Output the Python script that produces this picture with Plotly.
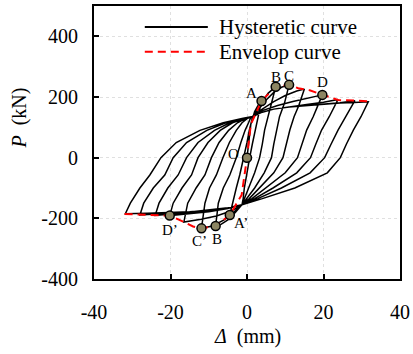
import plotly.graph_objects as go

# ---------------- data ----------------
# hysteretic loops (displacement mm, load kN), one cycle per amplitude level
loop1_d = [0, 0.5, 1.0, 2.0, 3.0, 3.8, 2.9, 2.0, 1.4, 0.7, -0.1, -0.7, -1.0, -1.3, -2.5, -3.5, -4.5,
           -3.8, -2.8, -1.9, -0.8, 0.0, 0.6, 1.0, 1.3, 1.5]
loop1_p = [0, 55, 110, 152, 175, 187, 135, 91, 45, 0, -50, -100, -135, -155, -172, -183, -189,
           -150, -100, -57, 0, 50, 90, 115, 130, 136]
loop2_d = [2.8, 4.0, 5.5, 7.5, 6.4, 5.4, 4.6, 4.0, 3.3, 2.0, 0.5, -0.6, -1.3, -3.0, -5.0, -6.8, -8.2,
           -7.5, -6.2, -4.5, -2.8, -1.6, -0.5, 0.4, 0.9, 1.5]
loop2_p = [160, 185, 212, 234, 180, 135, 91, 45, 0, -50, -100, -135, -155, -180, -205, -220, -225,
           -150, -100, -57, 0, 50, 90, 115, 130, 136]
loop3_d = [3.0, 5.0, 7.0, 9.0, 11.0, 9.8, 8.5, 7.7, 7.0, 6.4, 4.5, 2.0, 0.0, -1.3, -3.5, -6.0, -9.0, -11.9,
           -11.0, -9.8, -8.0, -6.3, -4.6, -2.8, -1.3, 0.2, 1.5]
loop3_p = [160, 190, 215, 232, 240, 180, 135, 91, 45, 0, -50, -100, -135, -155, -180, -205, -225, -233,
           -150, -100, -57, 0, 50, 90, 115, 130, 136]
loop4_d = [4.0, 7.0, 10.0, 13.0, 15.0, 13.5, 12.3, 11.2, 10.3, 9.4, 7.0, 3.3, 0.6, -1.3, -4.0, -8.0, -12.0, -16.5,
           -15.5, -13.3, -11.0, -9.3, -7.3, -4.8, -2.5, -0.3, 1.5]
loop4_p = [160, 185, 205, 220, 226, 170, 135, 91, 45, 0, -50, -100, -135, -155, -175, -192, -203, -212,
           -150, -100, -57, 0, 50, 90, 115, 130, 136]
loop5_d = [4.0, 8.0, 12.0, 16.0, 19.7, 18.3, 17.3, 15.6, 14.4, 13.2, 10.0, 5.0, 1.3, -1.3, -5.0, -10.0, -15.0, -20.2,
           -19.3, -17.0, -14.5, -12.8, -10.2, -7.0, -3.8, -0.5, 1.5]
loop5_p = [155, 172, 185, 197, 207, 165, 135, 91, 45, 0, -50, -100, -135, -155, -168, -178, -185, -191,
           -150, -100, -57, 0, 50, 90, 115, 130, 136]
loop6_d = [4.0, 7.0, 11.0, 15.6, 20.0, 23.8, 21.5, 19.5, 18.0, 16.6, 13.0, 6.8, 2.0, -1.3, -5.0, -10.0, -15.0, -20.0, -24.0,
           -23.0, -20.7, -18.0, -15.8, -12.8, -8.5, -4.5, -0.8, 1.5]
loop6_p = [150, 160, 168, 175, 183, 192, 135, 91, 45, 0, -50, -100, -135, -155, -166, -175, -181, -186, -190,
           -150, -100, -57, 0, 50, 90, 115, 130, 136]
loop7_d = [4.0, 7.0, 11.0, 15.6, 20.0, 24.3, 28.2, 25.8, 23.8, 22.0, 20.3, 16.5, 9.0, 2.8, -1.3, -5.0, -10.0, -15.0, -20.0, -24.0, -28.0,
           -27.0, -24.5, -21.5, -19.3, -15.8, -10.5, -5.5, -1.0, 1.5]
loop7_p = [150, 160, 167, 172, 177, 181, 188, 135, 91, 45, 0, -50, -100, -135, -155, -165, -173, -179, -183, -186, -189,
           -150, -100, -57, 0, 50, 90, 115, 130, 136]
loop8_d = [4.0, 7.0, 11.0, 15.6, 20.0, 24.3, 28.0, 31.7, 29.8, 27.8, 26.0, 24.4, 21.0, 12.5, 4.0, -1.3, -5.0, -10.0, -15.0, -20.0, -26.0, -31.8,
           -30.5, -28.0, -25.4, -22.5, -18.5, -12.3, -6.2, -1.0, 1.5]
loop8_p = [150, 160, 167, 172, 177, 180, 182, 184, 135, 91, 45, 0, -50, -100, -135, -155, -165, -173, -178, -181, -183, -185,
           -150, -100, -57, 0, 50, 90, 115, 130, 136]

# envelope curve
env_d = [-32.0, -26.0, -20.2, -16.7, -14.1, -11.9, -8.2, -4.5, -1.4, 0.0, 1.0, 3.8, 7.5, 11.0, 13.4, 16.4, 19.7, 23.8, 28.2, 31.7]
env_p = [-186, -189, -191, -211, -227, -233, -225, -189, -123, 0, 110, 187, 234, 240, 229, 222, 207, 190, 188, 186]

# characteristic points
pt_names = ["O", "A", "B", "C", "D", "A\u2019", "B", "C\u2019", "D\u2019"]
pt_d = [0.0, 3.8, 7.5, 11.0, 19.7, -4.5, -8.2, -11.9, -20.2]
pt_p = [0, 187, 234, 240, 207, -189, -225, -233, -191]
pt_dx = [-14, -10, 0, 0, 0, 11, 1, -2, 0]      # label offsets (px)
pt_dy = [4, 8, 10, 9, 13, -8, -13, -13, -14]

x_ticks = [-40, -20, 0, 20, 40]
x_labels = ["-40", "-20", "0", "20", "40"]
y_ticks = [-400, -200, 0, 200, 400]
y_labels = ["-400", "-200", "0", "200", "400"]

legend_names = ["Hysteretic curve", "Envelop curve"]

# ---------------- figure ----------------
FONT = "Times New Roman, Liberation Serif, Tinos, DejaVu Serif, serif"
hx, hy = [], []
for d, p in [(loop1_d, loop1_p), (loop2_d, loop2_p), (loop3_d, loop3_p), (loop4_d, loop4_p),
             (loop5_d, loop5_p), (loop6_d, loop6_p), (loop7_d, loop7_p), (loop8_d, loop8_p)]:
    hx += d
    hy += p

fig = go.Figure()
fig.add_trace(go.Scatter(x=hx, y=hy, mode="lines", line=dict(color="black", width=1.5),
                         name=legend_names[0], showlegend=False, hoverinfo="skip"))
fig.add_trace(go.Scatter(x=env_d, y=env_p, mode="lines",
                         line=dict(color="#ff0000", width=2, dash="8px,5px"),
                         name=legend_names[1], showlegend=False, hoverinfo="skip"))
fig.add_trace(go.Scatter(x=pt_d, y=pt_p, mode="markers",
                         marker=dict(size=9, color="#8c8562", line=dict(color="black", width=1.5)),
                         showlegend=False, hoverinfo="skip"))

for n, d, p, dx, dy in zip(pt_names, pt_d, pt_p, pt_dx, pt_dy):
    fig.add_annotation(x=d, y=p, text=n, showarrow=False, xshift=dx, yshift=dy,
                       font=dict(family=FONT, size=15, color="black"))

# manual legend
lx0, lx1, tx = 0.166, 0.372, 0.401
for i, (name, yy) in enumerate(zip(legend_names, [0.923, 0.832])):
    fig.add_shape(type="line", xref="paper", yref="paper", x0=lx0, x1=lx1, y0=yy, y1=yy,
                  line=dict(color="black" if i == 0 else "#ff0000", width=2,
                            dash="solid" if i == 0 else "8px,5px"))
    fig.add_annotation(xref="paper", yref="paper", x=tx, y=yy, text=name, showarrow=False,
                       xanchor="left", yanchor="middle", font=dict(family=FONT, size=21, color="black"))

# axis titles
fig.add_annotation(xref="x", yref="paper", x=0, y=-0.211, text="<i>\u0394</i>\u00a0 (mm)", showarrow=False,
                   xanchor="center", yanchor="middle", font=dict(family=FONT, size=20, color="black"))
fig.add_annotation(xref="paper", yref="paper", x=-0.243, y=0.59, text="<i>P</i>\u00a0 (kN)", showarrow=False,
                   textangle=-90, xanchor="center", yanchor="middle", font=dict(family=FONT, size=20, color="black"))

axis_common = dict(showline=True, linecolor="black", linewidth=2, mirror=True, ticks="inside",
                   ticklen=5, tickwidth=1.5, tickcolor="black", showgrid=True, gridcolor="#e0e0e0",
                   griddash="dot", gridwidth=1, zeroline=False, automargin=False,
                   tickfont=dict(family=FONT, size=20, color="black"))
fig.update_xaxes(range=[-40, 40], tickvals=x_ticks, ticktext=x_labels, ticklabelstandoff=14, **axis_common)
fig.update_yaxes(range=[-400, 500], tickvals=y_ticks, ticktext=y_labels, ticklabelstandoff=10, **axis_common)

fig.update_layout(template="none", width=413, height=354, margin=dict(l=94, r=13, t=6, b=75),
                  plot_bgcolor="white", paper_bgcolor="white", showlegend=False,
                  font=dict(family=FONT))
fig.write_html("out.html", config={"displayModeBar": False},
               post_script="document.body.style.margin='0';document.body.style.padding='0';")
